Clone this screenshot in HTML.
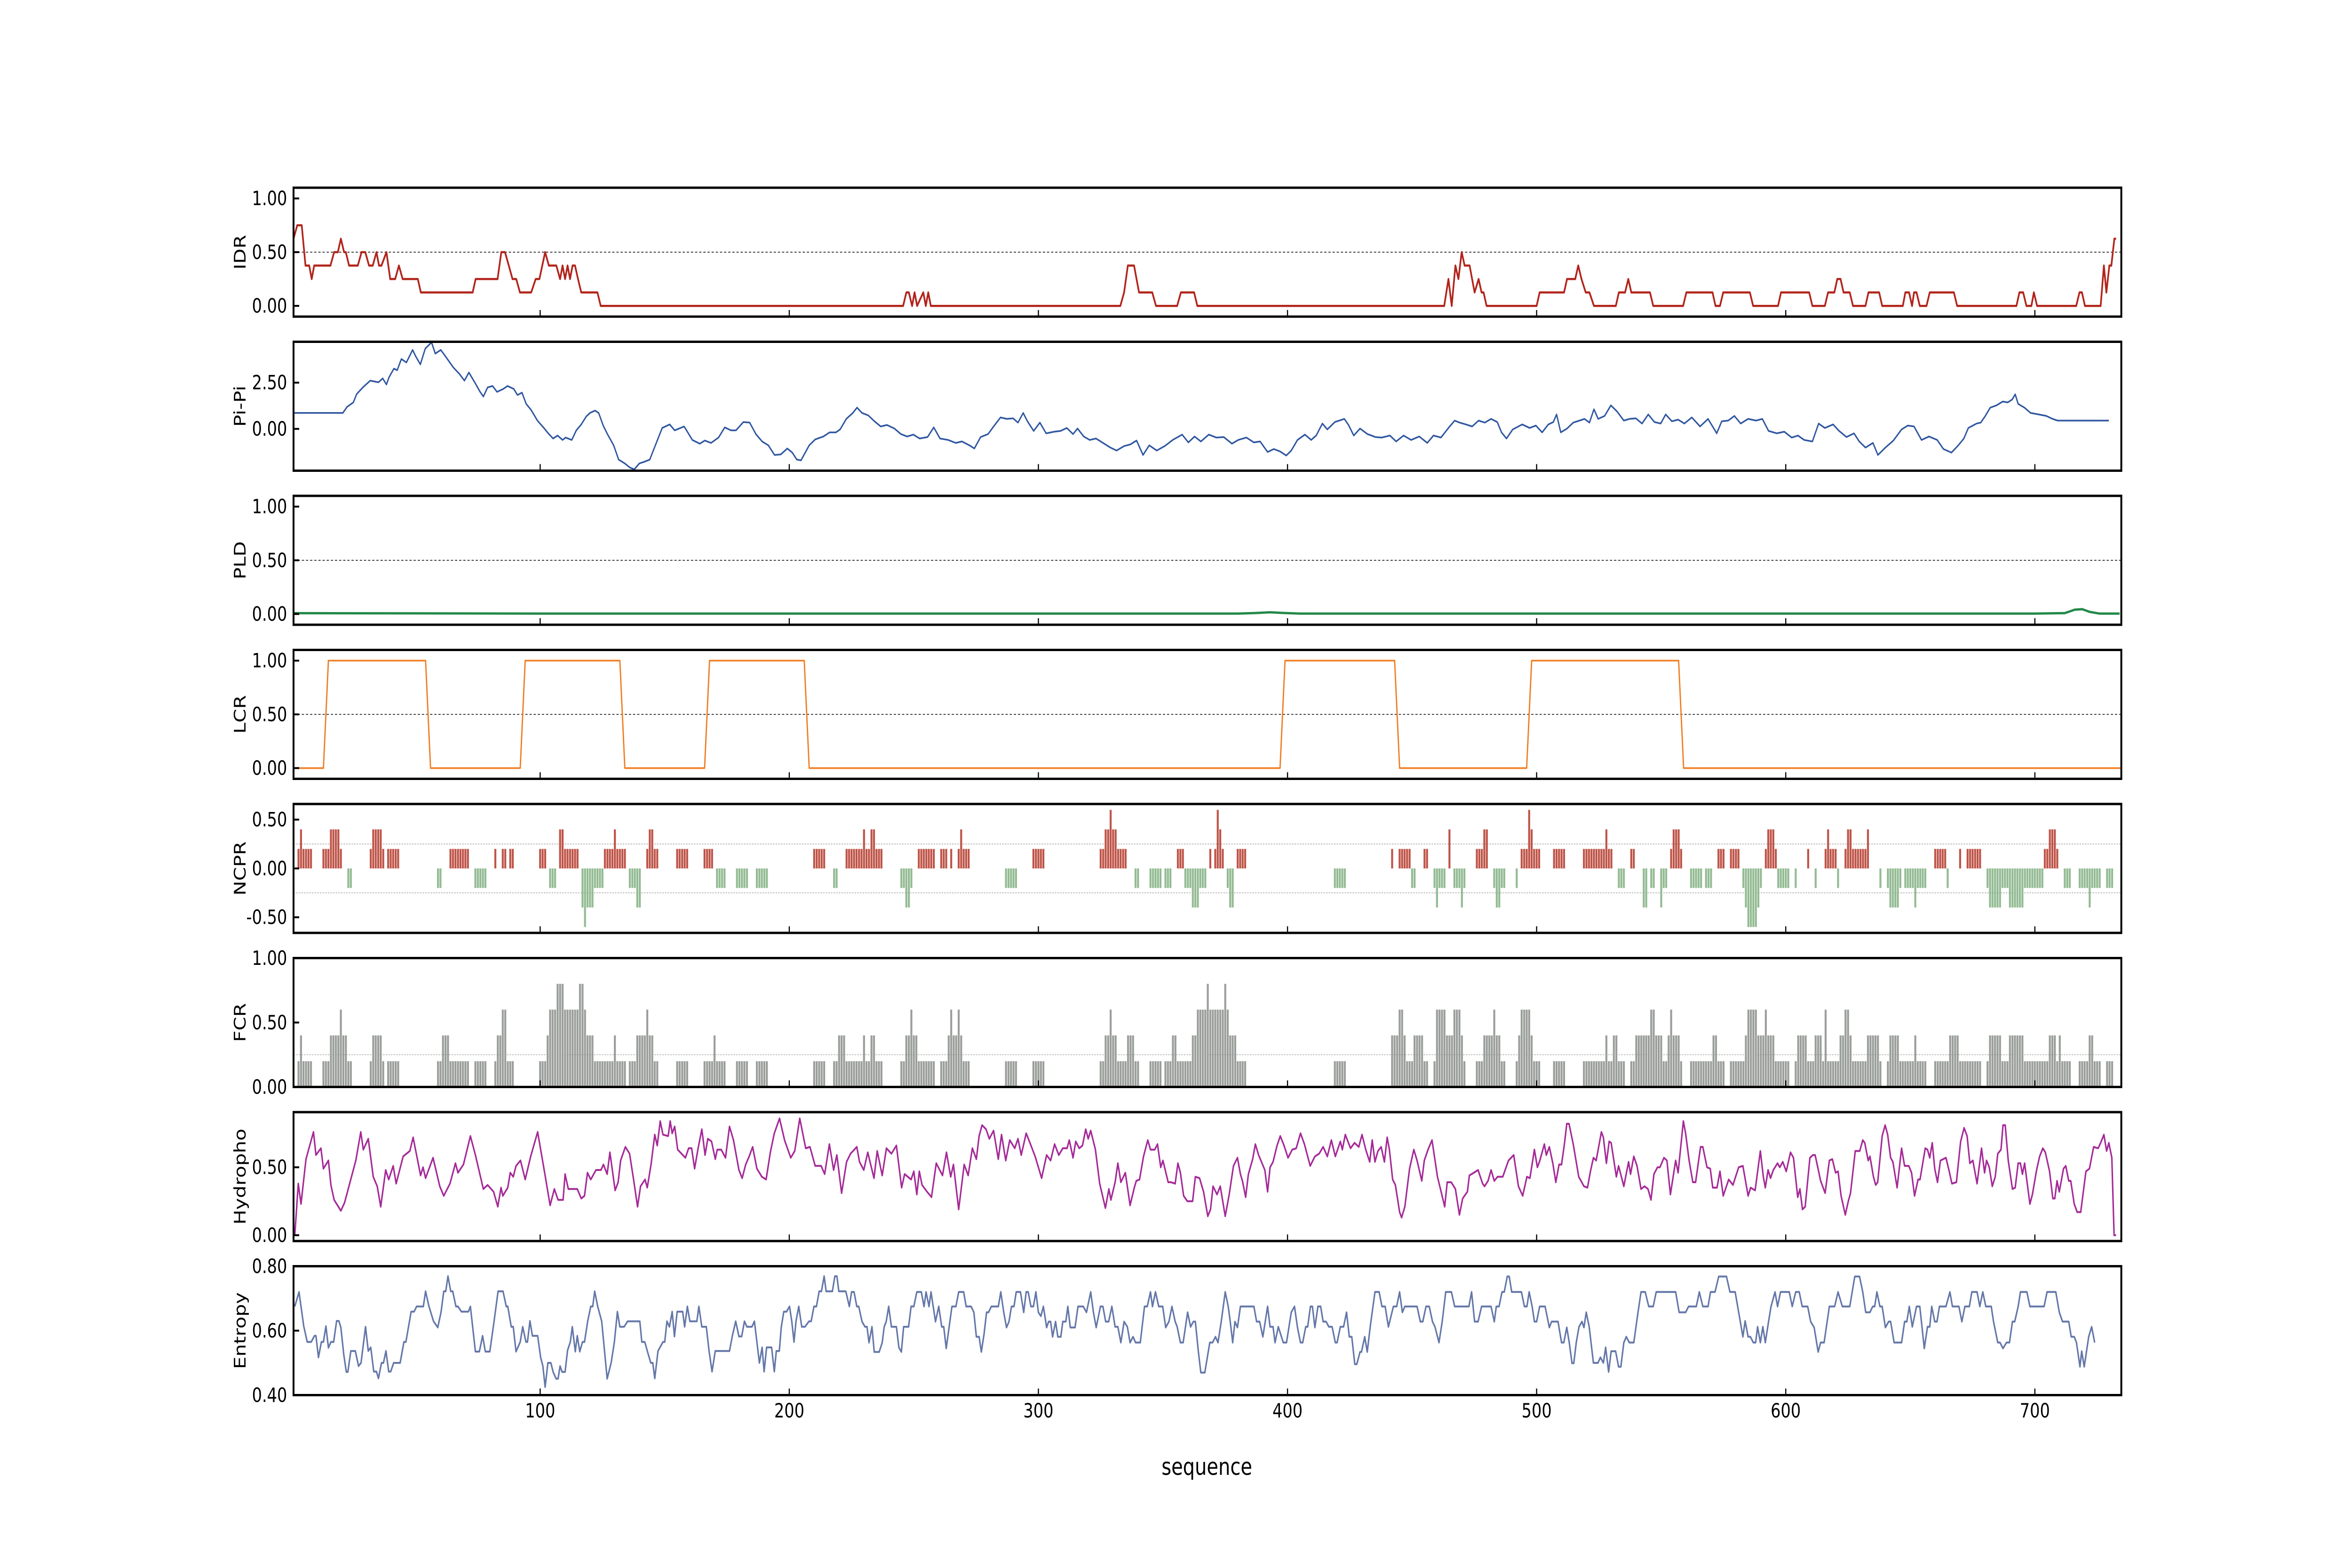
<!DOCTYPE html>
<html>
<head>
<meta charset="utf-8">
<style>
  html, body { margin: 0; padding: 0; background: #ffffff; overflow: hidden; width: 100%; height: 100%; }
  svg { display: block; width: 100vw; height: 100vh; }
  text { font-family: "DejaVu Sans", "Liberation Sans", sans-serif; fill: #000; }
</style>
</head>
<body>
<svg id="chart" xmlns="http://www.w3.org/2000/svg" viewBox="0 0 6250 3333" preserveAspectRatio="none">
  <rect x="0" y="0" width="6250" height="3333" fill="#ffffff"/>
  <text x="3207" y="3118" font-size="50" text-anchor="middle" dominant-baseline="central">sequence</text>
</svg>
<script>
// ---------------- DATA ----------------
const xTicks = [100, 200, 300, 400, 500, 600, 700];
const panelNames = ["IDR", "Pi-Pi", "PLD", "LCR", "NCPR", "FCR", "Hydropho", "Entropy"];

const idrPoints = [[1,0.625],[2.5,0.75],[4.3,0.75],[5.8,0.375],[7.3,0.375],[8.3,0.25],[9.3,0.375],[15.8,0.375],[17.3,0.5],[18.8,0.5],[20,0.625],[21.3,0.5],[22,0.5],[23.3,0.375],[26.8,0.375],[28.3,0.5],[29.8,0.5],[31.3,0.375],[32.8,0.375],[34.3,0.5],[35.3,0.375],[36.3,0.375],[38.3,0.5],[39.8,0.25],[41.8,0.25],[43.3,0.375],[44.8,0.25],[50.9,0.25],[52.1,0.125],[72.9,0.125],[74.1,0.25],[82.9,0.25],[84.4,0.5],[85.9,0.5],[87.4,0.375],[88.9,0.25],[90.4,0.25],[91.9,0.125],[96.4,0.125],[98.2,0.25],[99.7,0.25],[102,0.5],[103.5,0.375],[106.5,0.375],[108,0.25],[109,0.375],[110,0.25],[111,0.375],[112,0.25],[113,0.375],[114,0.375],[115.2,0.25],[116.5,0.125],[123,0.125],[124.3,0],[245.7,0],[247,0.125],[248,0.125],[249.3,0],[250.3,0.125],[251.3,0],[253.8,0.125],[254.8,0],[255.8,0.125],[256.8,0],[332.9,0],[334.4,0.125],[335.9,0.375],[338.4,0.375],[340.4,0.125],[345.7,0.125],[347.2,0],[355.7,0],[357.2,0.125],[362.5,0.125],[363.8,0],[462.9,0],[464.6,0.25],[465.9,0],[467.4,0.375],[468.6,0.25],[469.9,0.5],[471.1,0.375],[473.1,0.375],[475.1,0.125],[476.7,0.25],[477.9,0.125],[478.7,0.125],[479.9,0],[500,0],[501.2,0.125],[511,0.125],[512.2,0.25],[515.5,0.25],[516.7,0.375],[518,0.25],[519.7,0.125],[521.2,0.125],[523,0],[531.8,0],[533,0.125],[535.5,0.125],[536.8,0.25],[538,0.125],[545.5,0.125],[546.8,0],[558.8,0],[560.1,0.125],[570.6,0.125],[571.8,0],[573.6,0],[574.9,0.125],[585.6,0.125],[586.9,0],[596.9,0],[598.1,0.125],[609.4,0.125],[610.7,0],[615.7,0],[617,0.125],[619.5,0.125],[620.7,0.25],[622,0.25],[623.2,0.125],[625.7,0.125],[627,0],[632,0],[633.2,0.125],[637.5,0.125],[638.7,0],[647,0],[648,0.125],[649.5,0.125],[650.7,0],[651.5,0.125],[652.5,0.125],[653.8,0],[656.5,0],[657.8,0.125],[667.5,0.125],[668.8,0],[692.6,0],[693.8,0.125],[695.3,0.125],[696.6,0],[698.6,0],[699.6,0.125],[700.9,0],[716.6,0],[717.9,0.125],[718.9,0.125],[720.1,0],[726.4,0],[727.7,0.375],[728.7,0.125],[729.9,0.375],[730.7,0.375],[731.9,0.625],[732.6,0.625]];

const piPoints = [[1,0.86],[20.8,0.86],[22.5,1.19],[25,1.43],[26.3,1.87],[28.8,2.24],[31.8,2.61],[35.1,2.52],[36.8,2.73],[38.3,2.4],[39.3,2.78],[41.3,3.26],[42.6,3.17],[44.3,3.78],[46.3,3.59],[48.8,4.27],[50.1,3.91],[51.9,3.49],[53.9,4.35],[56.4,4.68],[57.9,4.07],[60.1,4.27],[61.9,3.94],[65.1,3.33],[67.6,2.97],[69.6,2.61],[71.4,3.05],[73.9,2.48],[75.9,2],[77.2,1.75],[78.9,2.24],[80.9,2.32],[82.7,2],[85.2,2.16],[86.9,2.32],[89.4,2.16],[90.9,1.83],[92.7,1.96],[94.4,1.35],[96.4,1.02],[98.9,0.45],[101.5,0.05],[103.5,-0.28],[105.2,-0.52],[107,-0.36],[109,-0.6],[110.2,-0.47],[112.7,-0.6],[114.5,-0.08],[116.5,0.24],[118.5,0.67],[120,0.86],[122,0.99],[123.5,0.86],[125.3,0.18],[127,-0.28],[129.5,-0.89],[131.5,-1.66],[134,-1.87],[136,-2.09],[137.8,-2.19],[139.8,-1.87],[142,-1.77],[144,-1.66],[146.5,-0.8],[149,0.05],[152,0.24],[154,-0.08],[157.8,0.13],[161.1,-0.6],[164.1,-0.8],[166.1,-0.63],[168.6,-0.76],[171.6,-0.47],[174.1,0.08],[176.6,-0.08],[178.6,-0.08],[181.6,0.37],[184.1,0.34],[186.6,-0.28],[189.1,-0.68],[191.6,-0.89],[194.1,-1.41],[196.6,-1.38],[199.2,-1.06],[201.2,-1.28],[203,-1.66],[204.7,-1.7],[208,-0.89],[210.4,-0.57],[213.7,-0.41],[216.2,-0.19],[218.7,-0.19],[220.4,-0.03],[222.9,0.54],[225.5,0.86],[227.2,1.15],[229.2,0.86],[231.7,0.73],[234.2,0.41],[236.7,0.13],[239.2,0.21],[242.2,0.02],[244.8,-0.28],[247.3,-0.41],[249.8,-0.31],[252.3,-0.52],[255.5,-0.44],[258,0.08],[260.5,-0.52],[263.8,-0.6],[266.8,-0.76],[269.3,-0.68],[272.3,-0.89],[274.3,-1.06],[276.8,-0.44],[279.8,-0.28],[282.3,0.18],[284.8,0.62],[287.3,0.54],[289.8,0.57],[291.8,0.34],[293.9,0.86],[295.6,0.41],[298.1,-0.11],[300.6,0.34],[303.1,-0.24],[306.4,-0.15],[308.9,-0.11],[311.4,0.05],[313.9,-0.28],[315.7,0.02],[318.2,-0.41],[320.6,-0.6],[323.1,-0.52],[326.4,-0.8],[328.9,-1.01],[331.4,-1.17],[334.4,-0.93],[336.9,-0.84],[339.4,-0.63],[342,-1.41],[344.5,-0.89],[347.5,-1.17],[350.7,-0.93],[353.9,-0.6],[357.7,-0.31],[360.2,-0.73],[362.7,-0.41],[365.2,-0.68],[368.4,-0.31],[371.4,-0.47],[374.4,-0.44],[377.7,-0.8],[380.2,-0.6],[383.5,-0.47],[386.5,-0.73],[389,-0.68],[392,-1.25],[394.5,-1.09],[397,-1.22],[399.5,-1.44],[401.5,-1.17],[404,-0.6],[407,-0.31],[409.5,-0.6],[411.5,-0.36],[414,0.29],[416,-0.03],[419,0.37],[422.8,0.54],[424.5,0.21],[426.6,-0.36],[429.1,0.02],[432.1,-0.28],[435.3,-0.44],[437.8,-0.47],[441.1,-0.36],[443.6,-0.68],[446.6,-0.36],[449.6,-0.6],[452.9,-0.41],[456.1,-0.76],[458.6,-0.36],[461.6,-0.47],[464.6,0.05],[467.1,0.45],[469.1,0.34],[471.6,0.24],[474.1,0.13],[476.7,0.45],[479.2,0.34],[481.7,0.54],[484.2,0.37],[485.9,-0.19],[487.9,-0.52],[490.4,-0.03],[494.2,0.24],[497.2,0.05],[499.7,0.18],[502.2,-0.19],[504.7,0.24],[506.7,0.37],[508,0.78],[509.7,-0.19],[512.2,0.02],[514.7,0.34],[517.2,0.45],[519.2,0.54],[521.2,0.34],[523,1.06],[524.7,0.54],[527.3,0.7],[529.8,1.27],[532.3,0.94],[535,0.45],[537.3,0.54],[539.8,0.57],[542.3,0.29],[544.8,0.78],[547.3,0.37],[549.8,0.29],[551.8,0.78],[554.3,0.41],[556.8,0.5],[559.3,0.29],[562.3,0.62],[565.6,0.13],[568.8,0.54],[572.3,-0.24],[574.3,0.41],[576.9,0.45],[579.4,0.7],[581.9,0.29],[584.9,0.54],[588.1,0.45],[590.6,0.54],[593.1,-0.11],[596.4,-0.24],[599.4,-0.15],[602.4,-0.47],[604.9,-0.36],[607.4,-0.6],[610.7,-0.68],[613.2,0.29],[615.7,0.05],[619,0.24],[621.4,-0.11],[624.4,-0.44],[627.4,-0.24],[629.5,-0.68],[632,-1.01],[635,-0.76],[637,-1.41],[640,-1.01],[643.2,-0.63],[646.5,-0.03],[649,0.18],[651.5,0.13],[654.5,-0.6],[657.5,-0.41],[660.8,-0.6],[663.3,-1.09],[666.5,-1.28],[669,-0.93],[671.5,-0.52],[673.3,0.05],[676.6,0.29],[678.3,0.34],[680.1,0.7],[682.1,1.15],[684.6,1.27],[687.1,1.48],[689.1,1.43],[690.9,1.59],[692.1,1.87],[693.3,1.35],[695.8,1.15],[698.3,0.86],[701.6,0.78],[704.6,0.7],[707.1,0.54],[709.1,0.45],[729.7,0.45]];

const pldPoints = [[1,0.008],[100,0.004],[380,0.004],[388,0.01],[393,0.016],[398,0.01],[405,0.004],[700,0.004],[712,0.008],[716,0.04],[719,0.045],[722,0.02],[726,0.004],[734,0.004]];

const lcrPoints = [[1,0],[13,0],[15,1],[54,1],[56,0],[92,0],[94,1],[132,1],[134,0],[166,0],[168,1],[206,1],[208,0],[397,0],[399,1],[443,1],[445,0],[496,0],[498,1],[557,1],[559,0],[734.7,0]];

const ncprRuns = [[3,8,.2],[4,4,.4],[13,20,.2],[16,19,.4],[32,37,.2],[33,36,.4],[39,43,.2],[64,71,.2],[82,82,.2],[85,86,.2],[88,89,.2],[100,102,.2],[108,115,.2],[108,109,.4],[126,134,.2],[130,130,.4],[143,147,.2],[144,145,.4],[155,159,.2],[166,169,.2],[210,214,.2],[223,237,.2],[230,230,.4],[233,234,.4],[252,258,.2],[261,263,.2],[265,265,.2],[268,272,.2],[269,269,.4],[298,302,.2],[325,335,.2],[327,331,.4],[329,329,.6],[356,358,.2],[369,369,.2],[371,374,.2],[372,372,.6],[373,373,.4],[380,383,.2],[442,442,.2],[445,449,.2],[455,456,.2],[465,465,.4],[476,480,.2],[479,480,.4],[494,501,.2],[497,497,.6],[498,498,.4],[507,511,.2],[519,530,.2],[528,528,.4],[538,539,.2],[554,558,.2],[555,557,.4],[573,575,.2],[578,581,.2],[592,596,.2],[593,595,.4],[609,609,.2],[616,620,.2],[617,617,.4],[624,633,.2],[625,626,.4],[633,633,.4],[660,664,.2],[670,670,.2],[673,678,.2],[704,709,.2],[706,708,.4],
[23,24,-.2],[59,60,-.2],[74,78,-.2],[104,106,-.2],[117,125,-.2],[117,121,-.4],[118,118,-.6],[136,140,-.2],[139,140,-.4],[171,174,-.2],[179,183,-.2],[187,191,-.2],[218,219,-.2],[245,249,-.2],[247,248,-.4],[287,291,-.2],[339,340,-.2],[345,349,-.2],[351,353,-.2],[359,367,-.2],[362,364,-.4],[376,378,-.2],[377,378,-.4],[419,423,-.2],[450,451,-.2],[459,463,-.2],[460,460,-.4],[467,471,-.2],[470,470,-.4],[483,487,-.2],[484,485,-.4],[492,492,-.2],[533,535,-.2],[543,544,-.4],[546,547,-.2],[550,552,-.2],[550,550,-.4],[562,566,-.2],[568,570,-.2],[583,590,-.2],[584,589,-.4],[585,588,-.6],[597,601,-.2],[604,604,-.2],[612,612,-.2],[621,621,-.2],[638,638,-.2],[641,646,-.2],[642,645,-.4],[648,656,-.2],[652,652,-.4],[665,665,-.2],[681,703,-.2],[682,686,-.4],[690,692,-.4],[693,695,-.4],[712,714,-.2],[718,726,-.2],[722,722,-.4],[729,731,-.2]];

const fcrRuns = [[3,8,.2],[4,4,.4],[13,24,.2],[16,22,.4],[20,20,.6],[32,37,.2],[33,36,.4],[39,43,.2],[59,71,.2],[61,63,.4],[74,78,.2],[82,89,.2],[83,86,.4],[85,86,.6],[100,147,.2],[103,103,.4],[104,118,.6],[107,109,.8],[116,117,.8],[119,121,.4],[130,130,.4],[135,135,0],[139,145,.4],[143,143,.6],[155,159,.2],[166,174,.2],[170,170,.4],[179,183,.2],[187,191,.2],[210,214,.2],[218,237,.2],[220,222,.4],[230,230,.4],[233,234,.4],[245,258,.2],[247,251,.4],[249,249,.6],[261,272,.2],[264,269,.4],[265,265,.6],[268,268,.6],[287,291,.2],[298,302,.2],[325,340,.2],[327,331,.4],[329,329,.6],[336,338,.4],[345,383,.2],[350,350,0],[354,355,.4],[362,379,.4],[364,376,.6],[368,368,.8],[375,375,.8],[419,423,.2],[442,456,.2],[442,447,.4],[445,446,.6],[451,454,.4],[459,471,.2],[460,470,.4],[460,463,.6],[467,469,.6],[476,487,.2],[479,485,.4],[483,483,.6],[492,501,.2],[493,498,.4],[494,497,.6],[507,511,.2],[519,535,.2],[528,528,.4],[531,532,.4],[538,558,.2],[540,550,.4],[546,547,.6],[553,557,.4],[554,554,.6],[562,575,.2],[571,572,.4],[578,601,.2],[584,595,.4],[585,588,.6],[592,592,.6],[604,638,.2],[605,608,.4],[612,614,.4],[616,616,.6],[622,626,.4],[624,625,.6],[633,637,.4],[641,656,.2],[642,645,.4],[652,652,.4],[660,678,.2],[666,669,.4],[681,714,.2],[682,686,.4],[690,692,.4],[693,695,.4],[706,708,.4],[710,710,.4],[718,726,.2],[722,723,.4],[729,731,.2]];

const hydroPoints = [[1,0],[1.5,0],[2.9,0.38],[4,0.23],[6,0.56],[9,0.76],[10,0.59],[12,0.64],[13,0.49],[15,0.55],[16,0.37],[17.3,0.26],[20,0.18],[21.5,0.24],[26,0.55],[28,0.76],[29,0.63],[31,0.71],[33,0.43],[34.6,0.36],[36,0.21],[38,0.48],[39.2,0.41],[41,0.51],[42.2,0.38],[45,0.58],[47.7,0.62],[49,0.72],[52,0.44],[53,0.5],[54,0.42],[57,0.57],[59.7,0.36],[61.3,0.29],[63.8,0.38],[66,0.53],[67,0.46],[69.2,0.52],[72,0.73],[74,0.59],[77.2,0.34],[78.9,0.37],[81.3,0.32],[83,0.21],[84.3,0.35],[85,0.29],[87,0.35],[88,0.46],[89.2,0.43],[90.3,0.51],[92.1,0.55],[94,0.41],[96.2,0.58],[99,0.76],[101.8,0.46],[104,0.22],[105.7,0.34],[107.2,0.26],[109.2,0.26],[110,0.45],[111.3,0.34],[114.9,0.34],[116.5,0.27],[117.8,0.29],[119,0.46],[120.3,0.41],[122.4,0.48],[124.4,0.48],[125.4,0.52],[126.9,0.45],[128,0.61],[130.1,0.33],[131.3,0.39],[132.3,0.55],[134.2,0.65],[135.9,0.6],[137.5,0.41],[139.1,0.21],[140.3,0.36],[142.1,0.41],[143,0.35],[144.5,0.52],[146,0.74],[147,0.66],[148.2,0.84],[149.3,0.74],[151.4,0.73],[152.2,0.84],[153,0.75],[154,0.8],[155.2,0.63],[158.3,0.57],[159.6,0.64],[160.8,0.64],[162,0.49],[163.4,0.64],[164.9,0.78],[166.2,0.59],[167.3,0.71],[168.8,0.69],[170.3,0.56],[171.1,0.63],[172.7,0.63],[174.4,0.57],[176,0.8],[177.6,0.7],[179.8,0.48],[181.1,0.42],[182.5,0.52],[183.9,0.58],[185.3,0.65],[187,0.49],[189,0.43],[190.7,0.41],[192.4,0.61],[194,0.75],[196.1,0.86],[198.1,0.7],[200.6,0.57],[202.2,0.62],[204.2,0.86],[206.6,0.64],[208.3,0.65],[210.4,0.51],[212.8,0.51],[214.2,0.45],[216.1,0.67],[217.8,0.48],[219.1,0.59],[221,0.31],[223,0.54],[224.6,0.6],[227.1,0.65],[228.2,0.54],[229.9,0.48],[231.5,0.61],[234,0.42],[235.3,0.62],[237.3,0.44],[239,0.64],[241,0.6],[243,0.66],[245.1,0.35],[246.3,0.45],[248.9,0.41],[250,0.47],[251.2,0.3],[252.2,0.47],[253.3,0.37],[255.3,0.32],[257.1,0.28],[259,0.53],[261.5,0.44],[263.1,0.61],[264.8,0.43],[265.9,0.52],[268,0.19],[270.2,0.52],[271.8,0.44],[273.5,0.64],[275.1,0.56],[276.2,0.73],[277.4,0.81],[279,0.78],[280.3,0.71],[282,0.77],[283.9,0.56],[285.2,0.74],[286.9,0.55],[288.5,0.7],[290.5,0.64],[291.8,0.71],[293.1,0.59],[295.1,0.75],[296.4,0.69],[298.7,0.58],[301.3,0.42],[303.3,0.59],[304.9,0.55],[306.5,0.67],[308.2,0.59],[309.8,0.64],[311.5,0.64],[312.4,0.7],[313.9,0.57],[315,0.69],[316.4,0.64],[317.7,0.66],[319,0.78],[320,0.71],[321,0.77],[322.9,0.63],[324.6,0.38],[326.9,0.2],[328.3,0.34],[329.1,0.26],[330.8,0.39],[331.9,0.53],[333.1,0.39],[334.9,0.46],[336.8,0.22],[338.5,0.35],[339.3,0.4],[340.6,0.41],[342.2,0.58],[343.9,0.7],[345,0.63],[346.7,0.63],[347.8,0.67],[349.1,0.5],[350,0.55],[352.1,0.39],[353.2,0.39],[354.9,0.38],[356,0.53],[357,0.46],[358.3,0.29],[359.8,0.25],[361.9,0.25],[363,0.43],[364.7,0.42],[366.3,0.32],[368,0.14],[369.1,0.19],[370.1,0.36],[371.7,0.3],[373,0.36],[375,0.14],[376.6,0.3],[378.3,0.51],[379.9,0.57],[381.1,0.45],[381.9,0.4],[383.2,0.28],[384.3,0.45],[386,0.56],[387.1,0.67],[388.4,0.59],[390.9,0.48],[392,0.32],[393,0.5],[394.2,0.54],[395.8,0.66],[397.1,0.73],[398.6,0.66],[400.2,0.57],[401.9,0.63],[403.5,0.64],[405.2,0.75],[406.8,0.67],[409.1,0.51],[411,0.58],[412.7,0.6],[414.3,0.65],[416,0.58],[417.6,0.7],[419.2,0.58],[421.2,0.69],[422,0.63],[423.2,0.74],[425.3,0.64],[426.9,0.68],[428.6,0.65],[429.9,0.74],[431.4,0.63],[433,0.54],[434,0.7],[435.1,0.54],[436.3,0.62],[437.6,0.65],[438.9,0.54],[440,0.72],[440.9,0.63],[442.2,0.41],[443.3,0.37],[445,0.17],[445.8,0.13],[447.1,0.21],[449,0.49],[450.7,0.63],[452,0.55],[453.9,0.4],[454.9,0.55],[456.4,0.63],[458,0.7],[460.2,0.43],[461.8,0.31],[463.1,0.21],[464.1,0.39],[465.7,0.39],[467.4,0.34],[469,0.15],[470.3,0.27],[472.2,0.32],[473,0.44],[474.8,0.46],[476.5,0.48],[478.3,0.38],[479.1,0.36],[480.5,0.4],[481.7,0.48],[483,0.4],[484.3,0.43],[486.4,0.43],[488.7,0.55],[490.8,0.59],[492.7,0.36],[494.4,0.29],[496.1,0.43],[497.3,0.42],[499.1,0.63],[500.3,0.5],[501.3,0.55],[503.1,0.67],[503.9,0.59],[505.1,0.65],[506.5,0.53],[507.7,0.39],[509,0.52],[510,0.52],[511.2,0.68],[512.1,0.82],[513,0.82],[514.7,0.67],[516.9,0.43],[519,0.36],[520.4,0.35],[521.6,0.47],[522.8,0.57],[523.9,0.55],[526,0.76],[526.8,0.72],[528,0.53],[529.1,0.69],[529.9,0.68],[532,0.43],[532.9,0.51],[535,0.36],[536.9,0.54],[537.7,0.45],[539,0.58],[540.3,0.51],[541.9,0.34],[543.3,0.36],[544.7,0.34],[545.9,0.26],[547.1,0.45],[548.5,0.5],[549.5,0.5],[551.1,0.57],[552.3,0.55],[553.7,0.3],[555.8,0.55],[556.8,0.46],[558.9,0.84],[559.8,0.75],[561.2,0.55],[562.7,0.39],[563.8,0.39],[565.8,0.65],[566.7,0.65],[568.4,0.5],[569.7,0.49],[570.7,0.35],[572.4,0.35],[573.6,0.47],[574.9,0.29],[577.1,0.41],[578.8,0.37],[581.1,0.5],[582.8,0.51],[584.9,0.29],[585.9,0.35],[587.7,0.33],[589.8,0.62],[591,0.43],[591.8,0.35],[592.9,0.48],[593.9,0.42],[595,0.48],[596.7,0.53],[597.6,0.5],[598.8,0.54],[600.2,0.47],[601.9,0.61],[603.1,0.57],[604.8,0.28],[605.7,0.34],[606.7,0.19],[607.8,0.21],[609.7,0.57],[610.9,0.59],[611.8,0.59],[614,0.4],[615.8,0.31],[617.5,0.55],[618.7,0.56],[620,0.46],[621,0.47],[622.2,0.29],[623.9,0.15],[625.1,0.25],[626,0.31],[627.9,0.62],[629.7,0.62],[630.9,0.7],[631.7,0.68],[633.1,0.55],[633.8,0.58],[635.2,0.43],[636.1,0.37],[636.9,0.39],[638.7,0.73],[639.9,0.81],[640.9,0.74],[642.1,0.57],[643,0.54],[644.7,0.35],[646.5,0.64],[647.7,0.51],[649.4,0.51],[650.5,0.46],[651.7,0.29],[653.1,0.41],[653.9,0.41],[656,0.64],[656.9,0.63],[657.8,0.57],[658.8,0.68],[659.8,0.49],[660.9,0.39],[662.1,0.55],[664.3,0.57],[665.5,0.48],[666.7,0.38],[668.5,0.39],[670.2,0.69],[671.6,0.79],[672.8,0.73],[673.9,0.53],[675.1,0.55],[676.8,0.38],[678.6,0.64],[679.8,0.46],[680.6,0.55],[681.7,0.5],[682.9,0.36],[684.1,0.43],[685.1,0.6],[686.4,0.63],[687.2,0.81],[688.1,0.81],[689.3,0.55],[691,0.34],[692.1,0.35],[693.3,0.53],[694.2,0.53],[695,0.45],[695.9,0.53],[696.8,0.4],[698,0.23],[699,0.3],[700.7,0.48],[701.9,0.58],[703.2,0.64],[704.2,0.61],[705.9,0.47],[707.2,0.27],[708,0.27],[708.9,0.4],[709.8,0.32],[711.5,0.49],[712.4,0.51],[713.6,0.4],[714.4,0.4],[715.8,0.23],[717,0.17],[718.4,0.17],[720.5,0.47],[721.9,0.49],[723.6,0.65],[725.4,0.64],[726.4,0.68],[727.7,0.74],[728.8,0.62],[729.7,0.68],[730.9,0.57],[731.8,0],[732.6,0]];

const entropyPoints = [[1.5,0.675],[3.2,0.72],[5.1,0.614],[6.5,0.565],[8.1,0.565],[9.4,0.584],[10,0.584],[11,0.517],[12.2,0.565],[13,0.565],[14,0.614],[15,0.547],[16,0.565],[17.1,0.565],[18.3,0.63],[19.2,0.63],[20,0.61],[21.2,0.524],[22.2,0.472],[22.8,0.472],[24,0.537],[25.8,0.537],[27.1,0.49],[28.1,0.5],[29.9,0.612],[31,0.537],[32,0.548],[33.2,0.473],[34.3,0.473],[35.1,0.452],[36.3,0.5],[37.1,0.5],[38.1,0.537],[39.2,0.473],[40,0.473],[41.2,0.5],[43.8,0.5],[45.3,0.565],[46.1,0.565],[48.2,0.659],[49.4,0.659],[50.4,0.675],[53.1,0.675],[54,0.722],[55.3,0.677],[57.2,0.629],[58.9,0.61],[60.2,0.657],[61.3,0.722],[62.1,0.722],[63,0.769],[64.1,0.722],[64.9,0.722],[66.2,0.675],[67,0.675],[68.4,0.659],[71.2,0.659],[72,0.675],[74,0.535],[75.6,0.535],[76.9,0.584],[78,0.535],[79.8,0.535],[81.5,0.629],[83.1,0.722],[85.1,0.722],[86.4,0.675],[87,0.675],[88.4,0.612],[89.2,0.612],[90.3,0.535],[92,0.565],[93,0.612],[94.3,0.565],[94.9,0.565],[95.9,0.63],[96.9,0.584],[99,0.584],[100.2,0.517],[101.1,0.49],[102,0.425],[103.1,0.5],[104.3,0.5],[105.2,0.472],[106.4,0.451],[107.2,0.451],[108,0.49],[108.8,0.472],[110,0.472],[111,0.539],[112.1,0.565],[112.9,0.612],[114.1,0.535],[114.9,0.584],[115.9,0.535],[117,0.565],[117.8,0.565],[119.1,0.63],[120.3,0.675],[121.1,0.675],[121.9,0.722],[123.1,0.675],[124.7,0.629],[126.9,0.451],[128.5,0.5],[129.8,0.565],[131,0.659],[132,0.612],[133.7,0.612],[135.1,0.629],[140,0.629],[140.8,0.565],[142,0.565],[143.2,0.532],[144.4,0.5],[145.2,0.5],[146,0.452],[147.3,0.537],[149.3,0.565],[150,0.565],[150.9,0.629],[151.9,0.612],[153,0.659],[153.9,0.582],[155,0.659],[157.2,0.659],[158,0.612],[159.1,0.675],[160.1,0.629],[162.9,0.629],[163.7,0.675],[164.9,0.612],[166.7,0.612],[167.8,0.537],[169,0.473],[170.3,0.537],[176,0.537],[177.1,0.582],[178.5,0.629],[179.8,0.582],[180.9,0.582],[182,0.629],[183,0.612],[185,0.612],[186,0.629],[187,0.565],[188,0.5],[189.1,0.548],[189.9,0.473],[190.9,0.548],[192.9,0.548],[194,0.473],[194.8,0.537],[196,0.537],[196.8,0.612],[197.8,0.659],[198.9,0.659],[200.1,0.675],[201,0.629],[201.9,0.565],[202.7,0.629],[203.8,0.675],[205,0.612],[206.3,0.612],[207.9,0.629],[208.8,0.629],[209.9,0.675],[210.9,0.675],[212,0.722],[212.9,0.722],[214,0.769],[214.8,0.722],[217.3,0.722],[218.3,0.769],[219.1,0.769],[219.9,0.722],[222.7,0.722],[224.1,0.675],[225,0.72],[226,0.72],[227.1,0.675],[227.9,0.675],[229.2,0.628],[230.4,0.612],[231.2,0.612],[232,0.563],[233.2,0.612],[234.1,0.534],[236.1,0.534],[237.3,0.563],[238.1,0.612],[238.9,0.628],[239.9,0.675],[241,0.612],[243,0.612],[244,0.548],[245,0.534],[245.9,0.612],[247.9,0.612],[248.9,0.675],[250,0.675],[251.2,0.72],[253,0.72],[254.1,0.675],[254.9,0.72],[256.1,0.675],[256.9,0.72],[258.7,0.628],[260,0.675],[261.2,0.612],[262,0.612],[263,0.545],[265.3,0.675],[266.9,0.675],[268,0.72],[270,0.72],[271,0.675],[273,0.675],[274.1,0.657],[275.1,0.581],[276.2,0.581],[277.1,0.534],[278.2,0.59],[279.2,0.657],[280,0.657],[281.1,0.675],[283.9,0.675],[284.9,0.72],[286.1,0.657],[287.2,0.61],[288.2,0.628],[289.2,0.675],[290.2,0.675],[291.1,0.72],[292.8,0.72],[294.1,0.657],[295.1,0.72],[295.9,0.72],[297,0.675],[298,0.675],[299,0.72],[300,0.657],[301,0.645],[302,0.675],[303.3,0.61],[304.1,0.628],[304.9,0.628],[305.7,0.581],[306.9,0.628],[307.8,0.581],[309,0.581],[309.8,0.628],[311,0.628],[311.8,0.675],[312.8,0.61],[314.7,0.61],[315.9,0.675],[318,0.675],[319.3,0.657],[321,0.72],[322.1,0.657],[323.2,0.61],[324.9,0.675],[325.9,0.675],[327,0.628],[328.2,0.628],[329.5,0.675],[330.8,0.612],[331.9,0.612],[333.1,0.563],[334.4,0.628],[335.7,0.612],[336.8,0.563],[338,0.581],[339,0.563],[340.9,0.563],[342.6,0.675],[343.7,0.675],[345,0.72],[345.8,0.675],[347,0.72],[348.3,0.675],[349.9,0.675],[351.1,0.61],[352.4,0.628],[353.6,0.675],[354.9,0.628],[355.7,0.612],[357,0.563],[358.1,0.563],[359.9,0.657],[361.1,0.612],[362.2,0.628],[363,0.628],[364.2,0.536],[365.2,0.47],[366.8,0.47],[368.8,0.563],[369.9,0.563],[371.1,0.581],[372.1,0.563],[373.4,0.628],[375,0.72],[376.2,0.675],[377,0.628],[378,0.563],[378.9,0.628],[379.9,0.61],[381.1,0.675],[386.5,0.675],[387.6,0.628],[388.8,0.628],[390.1,0.581],[392,0.675],[393,0.612],[394.2,0.612],[395,0.563],[396.3,0.612],[398.3,0.563],[399.6,0.563],[401.5,0.657],[402.8,0.675],[404,0.61],[405.2,0.563],[406.1,0.563],[407.3,0.612],[408.1,0.612],[409.2,0.675],[410,0.675],[411,0.61],[412.2,0.675],[413.3,0.675],[414.3,0.628],[415.5,0.628],[416.6,0.612],[417.9,0.612],[419.2,0.563],[419.9,0.563],[421.2,0.612],[422.5,0.612],[423.7,0.657],[424.8,0.581],[425.8,0.581],[427,0.496],[427.8,0.496],[429.1,0.534],[429.7,0.534],[431,0.581],[432,0.534],[433.2,0.612],[434.3,0.675],[435.1,0.72],[436.8,0.72],[437.9,0.675],[439.2,0.675],[440.5,0.612],[442.5,0.675],[443.8,0.675],[445,0.72],[446.1,0.657],[447.1,0.675],[452,0.675],[453.3,0.628],[454.3,0.628],[455.6,0.675],[456.9,0.675],[458.2,0.628],[459.2,0.612],[460.8,0.563],[462.1,0.628],[463.5,0.72],[465.8,0.72],[467.1,0.675],[472.8,0.675],[473.9,0.72],[475.1,0.628],[476.5,0.628],[477.9,0.675],[481.7,0.675],[483,0.628],[483.8,0.675],[484.9,0.675],[486.1,0.72],[487,0.72],[488.2,0.768],[489,0.768],[490,0.72],[493.9,0.72],[495.1,0.675],[496.1,0.675],[497,0.72],[498.2,0.675],[499.1,0.628],[500,0.628],[501.2,0.675],[503.4,0.675],[505.1,0.61],[506,0.628],[508.6,0.628],[510,0.563],[510.9,0.563],[512.1,0.61],[513.1,0.563],[514.2,0.499],[514.9,0.499],[515.9,0.563],[517,0.612],[518.2,0.628],[519,0.61],[519.9,0.657],[521.1,0.612],[522.8,0.5],[524.6,0.5],[525.6,0.517],[526.8,0.5],[527.7,0.548],[528.9,0.472],[529.9,0.536],[531.7,0.536],[532.9,0.488],[533.8,0.488],[535,0.563],[536,0.581],[537.2,0.563],[539,0.563],[540.7,0.657],[541.9,0.72],[543.6,0.72],[545,0.675],[546.8,0.675],[548,0.72],[555.8,0.72],[557.2,0.657],[559.8,0.657],[561,0.675],[564.1,0.675],[565.3,0.72],[566.7,0.675],[568.8,0.675],[569.8,0.72],[571.6,0.72],[573.1,0.768],[576.2,0.768],[577.6,0.72],[579.7,0.72],[581.1,0.657],[582.8,0.581],[583.7,0.63],[584.9,0.581],[585.8,0.581],[587,0.563],[587.9,0.563],[588.7,0.612],[589.8,0.563],[590.8,0.612],[591.8,0.563],[593.1,0.628],[594.1,0.675],[595.7,0.72],[596.7,0.675],[597.9,0.72],[601.4,0.72],[602.6,0.675],[604,0.72],[605.4,0.72],[606.6,0.675],[608.8,0.675],[610,0.628],[611.4,0.61],[613,0.534],[614,0.563],[615.4,0.563],[617.5,0.675],[619.6,0.675],[621,0.72],[622.7,0.675],[625.7,0.675],[627.7,0.768],[629.6,0.768],[630.9,0.72],[632.1,0.657],[633.8,0.657],[634.9,0.675],[635.7,0.675],[636.6,0.72],[637.8,0.675],[638.7,0.675],[640,0.61],[641.3,0.628],[642.1,0.628],[643.5,0.563],[646.5,0.563],[647.7,0.628],[648.6,0.628],[649.6,0.675],[650.8,0.612],[652.5,0.675],[653.8,0.675],[655.6,0.545],[656.9,0.612],[657.8,0.612],[658.6,0.675],[659.8,0.628],[660.7,0.628],[661.7,0.675],[664.3,0.675],[665.9,0.72],[666.9,0.675],[669.5,0.675],[670.7,0.628],[671.9,0.675],[673.7,0.675],[674.7,0.72],[676.8,0.72],[677.9,0.675],[679.1,0.72],[680.3,0.675],[682.5,0.675],[683.4,0.628],[685.1,0.563],[686,0.563],[687.2,0.545],[688.6,0.563],[689.8,0.563],[691,0.628],[691.9,0.628],[693.3,0.675],[694.2,0.72],[696.8,0.72],[698,0.675],[703.7,0.675],[704.9,0.72],[708.4,0.72],[709.8,0.657],[711.1,0.628],[713.6,0.628],[714.6,0.581],[715.8,0.581],[716.7,0.563],[718.1,0.488],[718.8,0.536],[719.8,0.488],[721.6,0.581],[722.8,0.612],[724,0.563]];

// ---------------- LAYOUT / AXES ----------------
const NS = "http://www.w3.org/2000/svg";
const svg = document.getElementById("chart");
const X0 = 780, X1 = 5637, XMIN = 1, XMAX = 734.7;
const PANEL_TOP0 = 399, PANEL_STEP = 327.5, PANEL_H = 274;
const sx = r => X0 + (r - XMIN) * (X1 - X0) / (XMAX - XMIN);

const panels = [
  {label:"IDR", ylim:[-0.1,1.1], ticks:[0,0.5,1], refs:[0.5], refColor:"#000", refDash:"6,5"},
  {label:"Pi-Pi", ylim:[-2.26,4.71], ticks:[0,2.5], refs:[], refColor:"#000", refDash:"6,5"},
  {label:"PLD", ylim:[-0.1,1.1], ticks:[0,0.5,1], refs:[0.5], refColor:"#000", refDash:"6,5"},
  {label:"LCR", ylim:[-0.1,1.1], ticks:[0,0.5,1], refs:[0.5], refColor:"#000", refDash:"6,5"},
  {label:"NCPR", ylim:[-0.66,0.66], ticks:[-0.5,0,0.5], refs:[0.25,-0.25], refColor:"#aaaaaa", refDash:"4,3"},
  {label:"FCR", ylim:[0,1], ticks:[0,0.5,1], refs:[0.25], refColor:"#aaaaaa", refDash:"4,3"},
  {label:"Hydropho", ylim:[-0.043,0.906], ticks:[0,0.5], refs:[], refColor:"#000", refDash:"6,5"},
  {label:"Entropy", ylim:[0.4,0.8], ticks:[0.4,0.6,0.8], refs:[], refColor:"#000", refDash:"6,5"}
];
const topOf = i => PANEL_TOP0 + i * PANEL_STEP;
const syFor = i => v => { const p = panels[i]; return topOf(i) + (p.ylim[1] - v) / (p.ylim[1] - p.ylim[0]) * PANEL_H; };

function el(tag, parent) { const e = document.createElementNS(NS, tag); parent.appendChild(e); return e; }

const defs = el("defs", svg);
panels.forEach((p, i) => {
  const cp = el("clipPath", defs);
  cp.setAttribute("id", "clip" + i);
  const r = el("rect", cp);
  r.setAttribute("x", X0); r.setAttribute("y", topOf(i));
  r.setAttribute("width", X1 - X0); r.setAttribute("height", PANEL_H);
});

const groups = panels.map((p, i) => {
  const g = el("g", svg);
  
  
  return g;
});
const plotGroups = panels.map((p, i) => {
  const g = el("g", groups[i]);
  g.setAttribute("clip-path", "url(#clip" + i + ")");
  
  
  return g;
});

panels.forEach((p, i) => {
  const sy = syFor(i);
  p.refs.forEach(v => {
    const l = el("line", plotGroups[i]);
    
    
    l.setAttribute("x1", X0); l.setAttribute("x2", X1);
    l.setAttribute("y1", sy(v)); l.setAttribute("y2", sy(v));
    l.setAttribute("stroke", p.refColor); l.setAttribute("stroke-width", 1.6);
    l.setAttribute("stroke-dasharray", p.refDash);
  });
});

function drawLine(i, pts, color, width, name) {
  const sy = syFor(i);
  const d = pts.map((pt, k) => (k ? "L" : "M") + sx(pt[0]).toFixed(1) + "," + sy(pt[1]).toFixed(1)).join("");
  const path = el("path", plotGroups[i]);
  
  
  path.setAttribute("d", d); path.setAttribute("fill", "none");
  path.setAttribute("stroke", color); path.setAttribute("stroke-width", width);
  path.setAttribute("stroke-linejoin", "round");
}
drawLine(0, idrPoints, "#b2241b", 4.5, "idr-line");
drawLine(1, piPoints, "#2f56a0", 3.5, "pi-pi-line");
drawLine(2, pldPoints, "#23894a", 5, "pld-line");
drawLine(3, lcrPoints, "#f07d22", 3.5, "lcr-line");
drawLine(6, hydroPoints, "#a52a97", 4, "hydrophobicity-line");
drawLine(7, entropyPoints, "#6477a9", 4, "entropy-line");

function runsToValues(runs) {
  const vals = {};
  runs.forEach(r => { for (let k = r[0]; k <= r[1]; k++) vals[k] = r[2]; });
  return vals;
}
function drawBars(i, runs, posColor, negColor, name) {
  const sy = syFor(i);
  const vals = runsToValues(runs);
  const w = 0.8 * (X1 - X0) / (XMAX - XMIN);
  Object.keys(vals).forEach(k => {
    const v = vals[k];
    if (!v) return;
    const r = el("rect", plotGroups[i]);
    
    
    const y0 = sy(0), y1 = sy(v);
    r.setAttribute("x", (sx(+k) - w / 2).toFixed(1));
    r.setAttribute("width", w.toFixed(1));
    r.setAttribute("y", Math.min(y0, y1).toFixed(1));
    r.setAttribute("height", Math.abs(y1 - y0).toFixed(1));
    r.setAttribute("fill", v > 0 ? posColor : negColor);
  });
}
drawBars(4, ncprRuns, "#bf5549", "#93bb93", "ncpr-bar");
drawBars(5, fcrRuns, "#9b9f9b", "#9b9f9b", "fcr-bar");

panels.forEach((p, i) => {
  const sy = syFor(i);
  const g = groups[i];
  const top = topOf(i), bot = top + PANEL_H;
  p.ticks.forEach(t => {
    const tk = el("line", g);
    
    
    tk.setAttribute("x1", X0); tk.setAttribute("x2", X0 + 15);
    tk.setAttribute("y1", sy(t)); tk.setAttribute("y2", sy(t));
    tk.setAttribute("stroke", "#000"); tk.setAttribute("stroke-width", 4);
    const tl = el("text", g);
    
    
    tl.setAttribute("x", 763); tl.setAttribute("y", sy(t));
    tl.setAttribute("font-size", 42); tl.setAttribute("text-anchor", "end");
    tl.setAttribute("dominant-baseline", "central");
    tl.textContent = t.toFixed(2);
  });
  xTicks.forEach(t => {
    const tk = el("line", g);
    
    
    tk.setAttribute("x1", sx(t)); tk.setAttribute("x2", sx(t));
    tk.setAttribute("y1", bot); tk.setAttribute("y2", bot - 14);
    tk.setAttribute("stroke", "#000"); tk.setAttribute("stroke-width", 3);
  });
  const fr = el("rect", g);
  
  
  fr.setAttribute("x", X0); fr.setAttribute("y", top);
  fr.setAttribute("width", X1 - X0); fr.setAttribute("height", PANEL_H);
  fr.setAttribute("fill", "none"); fr.setAttribute("stroke", "#000"); fr.setAttribute("stroke-width", 5);
  const yl = el("text", g);
  
  
  const cy = top + PANEL_H / 2;
  yl.setAttribute("x", 638); yl.setAttribute("y", cy);
  yl.setAttribute("font-size", 42); yl.setAttribute("text-anchor", "middle");
  yl.setAttribute("dominant-baseline", "central");
  yl.setAttribute("transform", "rotate(-90 638 " + cy + ")");
  yl.textContent = p.label;
});

const lastBot = topOf(7) + PANEL_H;
xTicks.forEach(t => {
  const tl = el("text", svg);
  
  
  tl.setAttribute("x", sx(t)); tl.setAttribute("y", lastBot + 33);
  tl.setAttribute("font-size", 42); tl.setAttribute("text-anchor", "middle");
  tl.setAttribute("dominant-baseline", "central");
  tl.textContent = String(t);
});
</script>
</body>
</html>
